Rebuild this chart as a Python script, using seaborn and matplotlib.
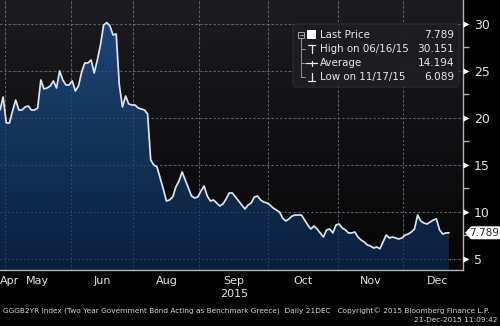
import numpy as np
import pandas as pd
import matplotlib
matplotlib.use("Agg")
import matplotlib.pyplot as plt
import matplotlib.transforms as mtransforms
import seaborn as sns
from matplotlib.colors import LinearSegmentedColormap
from matplotlib.patches import FancyBboxPatch, Polygon, Rectangle

# ---- data -------------------------------------------------------------
# Trading days (the Greek bond market was shut through July 2015)
trade_dates = pd.bdate_range("2015-04-29", "2015-06-26").append(
    pd.bdate_range("2015-08-03", "2015-12-21"))

yields = [
    20.85, 22.23, 19.47, 19.47, 20.74, 21.91, 20.85, 20.85, 21.17, 21.28,
    20.85, 20.85, 21.06, 24.04, 23.09, 23.19, 23.40, 23.94, 23.19, 25.00,
    24.04, 23.51, 23.51, 23.94, 22.87, 23.40, 24.89, 25.85, 25.85, 26.17,
    24.79, 26.17, 27.77, 29.89, 30.151, 29.79, 28.83, 28.94, 23.51, 21.17,
    22.34, 21.49, 21.38, 21.38, 21.06, 20.96, 20.85, 20.43, 15.53, 15.00,
    14.79, 13.62, 12.45, 11.17, 11.28, 11.60, 12.66, 13.30, 14.26, 13.40,
    12.55, 11.70, 11.49, 11.60, 12.23, 12.77, 11.70, 11.17, 11.28, 10.96,
    10.64, 10.85, 11.38, 12.02, 12.02, 11.60, 11.17, 10.74, 10.32, 10.74,
    10.96, 11.60, 11.70, 11.28, 11.06, 10.96, 10.74, 10.43, 10.21, 10.00,
    9.36, 9.04, 9.26, 9.57, 9.68, 9.68, 9.68, 9.15, 8.62, 8.19,
    8.51, 8.19, 7.77, 7.34, 8.09, 8.19, 7.77, 8.62, 8.72, 8.30,
    8.09, 7.77, 7.77, 7.87, 7.34, 7.02, 6.81, 6.49, 6.38, 6.17,
    6.28, 6.089, 6.81, 7.55, 7.23, 7.34, 7.23, 7.13, 7.23, 7.55,
    7.66, 7.87, 8.19, 9.68, 9.04, 8.83, 8.72, 8.94, 9.15, 9.26,
    8.09, 7.66, 7.77, 7.789,
]

month_labels = ["Apr", "May", "Jun", "Aug", "Sep", "Oct", "Nov", "Dec"]
year_label = "2015"
y_ticks = [5, 10, 15, 20, 25, 30]
y_minor_ticks = [7.5, 12.5, 17.5, 22.5, 27.5]
legend_names = ["Last Price", "High on 06/16/15", "Average", "Low on 11/17/15"]
average_text = "14.194"
footer_left = ("GGGB2YR Index (Two Year Government Bond Acting as Benchmark Greece)"
               "  Daily 21DEC   Copyright\u00a9 2015 Bloomberg Finance L.P.")
footer_right = "21-Dec-2015 11:09:42"

# ---- figure -----------------------------------------------------------
sns.set_style("dark")
plt.rcParams["font.family"] = ["DejaVu Sans"]

W, H = 500, 326
fig = plt.figure(figsize=(W / 100, H / 100), dpi=100, facecolor="black")
ax = fig.add_axes([0, 1 - 270 / H, 463 / W, 270 / H])
ax.set_facecolor("black")

pos = np.arange(len(yields))
x0, x1 = 0.0, 463 / 3.14
y0, y1 = 3.83, 32.55

# plot-area background gradient
bg_cmap = LinearSegmentedColormap.from_list("bg", ["#060607", "#1c1c20"])
ax.imshow(np.linspace(0, 1, 256).reshape(-1, 1), extent=[x0, x1, y0, y1],
          origin="lower", cmap=bg_cmap, aspect="auto", zorder=0)

# month boundaries (first trading day of each month)
months = trade_dates.to_period("M")
first_idx = [i for i in range(1, len(months)) if months[i] != months[i - 1]]
bounds = [i - 0.5 for i in first_idx]

# grid
grid_ls = (0, (1.5, 2.5))
for b in bounds:
    ax.axvline(b, color="#6c6c6c", lw=0.8, ls=grid_ls, zorder=1)
for t in y_ticks:
    ax.axhline(t, color="#6c6c6c", lw=0.8, ls=grid_ls, zorder=1)

# gradient area under the curve
area = ax.fill_between(pos, yields, y0, color="none", lw=0)
fill_cmap = LinearSegmentedColormap.from_list("fill", ["#0a1f3c", "#1d4575"])
im = ax.imshow(np.linspace(0, 1, 256).reshape(-1, 1), extent=[x0, x1, y0, 30.5],
               origin="lower", cmap=fill_cmap, aspect="auto", zorder=2)
im.set_clip_path(area.get_paths()[0], transform=ax.transData)

# faint grid over the fill
for b in bounds:
    ax.axvline(b, color="#5a6678", lw=0.7, ls=grid_ls, zorder=2.5, alpha=0.6)
for t in y_ticks:
    ax.axhline(t, color="#5a6678", lw=0.7, ls=grid_ls, zorder=2.5, alpha=0.6)

sns.lineplot(x=pos, y=yields, ax=ax, color="#dfe4ec", linewidth=1.25, zorder=3)

ax.set_xlim(x0, x1)
ax.set_ylim(y0, y1)
ax.grid(False)

# spines
for s in ["left", "top"]:
    ax.spines[s].set_visible(False)
for s in ["right", "bottom"]:
    ax.spines[s].set_visible(True)
    ax.spines[s].set_color("#b4b4b4")
    ax.spines[s].set_linewidth(1.0)

# y axis on the right
ax.yaxis.tick_right()
ax.set_yticks(y_ticks)
ax.set_yticklabels([str(t) for t in y_ticks])
ax.set_yticks(y_minor_ticks, minor=True)
ax.tick_params(axis="y", which="major", length=0, pad=8, labelsize=9,
               labelcolor="#e4e4e4")
ax.tick_params(axis="y", which="minor", length=4, width=1, color="#b4b4b4",
               direction="out")
tri_trans = mtransforms.offset_copy(
    mtransforms.blended_transform_factory(ax.transAxes, ax.transData),
    fig=fig, x=3, y=0, units="dots")
for t in y_ticks:
    ax.plot([1], [t], marker=">", ms=4.5, color="white", mec="none",
            transform=tri_trans, clip_on=False, zorder=5)

# x axis: ticks at month boundaries, labels centred inside each month
ax.set_xticks(bounds)
ax.set_xticklabels([])
ax.tick_params(axis="x", which="major", length=3, width=1, color="#b4b4b4",
               direction="out")
edges = bounds + [bounds[-1] + 22]
centers = [(edges[k] + edges[k + 1]) / 2 for k in range(len(edges) - 1)]
ax.set_xticks(centers, minor=True)
ax.set_xticklabels(month_labels[1:], minor=True)
ax.tick_params(axis="x", which="minor", length=0, pad=4, labelsize=8,
               labelcolor="#e4e4e4")
ax.text(0.0, -0.022, month_labels[0], transform=ax.transAxes, ha="left",
        va="top", fontsize=8, color="#e4e4e4")
sep_center = centers[month_labels[1:].index("Sep")]
ax.text(sep_center, -0.072, year_label,
        transform=mtransforms.blended_transform_factory(ax.transData, ax.transAxes),
        ha="center", va="top", fontsize=8, color="#e4e4e4")

# ---- overlay in pixel coordinates --------------------------------------
ov = fig.add_axes([0, 0, 1, 1], zorder=10)
ov.set_xlim(0, W)
ov.set_ylim(H, 0)
ov.axis("off")

# legend panel
ov.add_patch(FancyBboxPatch((293, 24), 166, 63,
                            boxstyle="round,pad=0,rounding_size=3",
                            fc="#1e1e22", ec="#2c2c31", lw=0.8, alpha=0.96))
rows_y = [35, 49, 63, 77]
tcol = "#e8e8e8"
last_v, high_v, low_v = yields[-1], max(yields), min(yields)
legend_vals = [f"{last_v:.3f}", f"{high_v:.3f}", average_text, f"{low_v:.3f}"]
for name, val, ry in zip(legend_names, legend_vals, rows_y):
    ov.text(320, ry, name, fontsize=7.4, color=tcol, va="center", ha="left")
    ov.text(454, ry, val, fontsize=7.6, color=tcol, va="center", ha="right")

# tree connector and icons
lc = "#a8a8a8"
ov.add_patch(Rectangle((298, 32), 6, 6, fc="none", ec=lc, lw=0.7))
ov.plot([299.5, 302.5], [35, 35], color=lc, lw=0.7)
ov.plot([301, 301], [38, 77], color=lc, lw=0.6)
for ry in rows_y[1:]:
    ov.plot([301, 305], [ry, ry], color=lc, lw=0.6)
ov.add_patch(Rectangle((307, 30), 9, 9, fc="white", ec="none"))
# high icon
ov.plot([308, 315], [45, 45], color=tcol, lw=0.9)
ov.plot([311.5, 311.5], [45, 53], color=tcol, lw=0.9)
# average icon
ov.plot([306, 317], [63, 63], color=tcol, lw=0.9)
ov.plot([311.5, 311.5], [60.5, 65.5], color=tcol, lw=0.9)
# low icon
ov.plot([308, 315], [81, 81], color=tcol, lw=0.9)
ov.plot([311.5, 311.5], [73, 81], color=tcol, lw=0.9)

# last value tag on the price axis
_, disp_y = ax.transData.transform((0, last_v))
ty = H - disp_y
ov.add_patch(Polygon([(465, ty), (471, ty - 6.5), (500, ty - 6.5),
                      (500, ty + 6.5), (471, ty + 6.5)],
                     closed=True, fc="white", ec="none"))
ov.text(484.5, ty + 0.5, f"{last_v:.3f}", fontsize=7.6, color="#262626",
        ha="center", va="center")

# footer
ov.text(3, 311, footer_left, fontsize=5.3, color="#d8d8d8", ha="left", va="center")
ov.text(498, 320, footer_right, fontsize=5.3, color="#d8d8d8", ha="right", va="center")

fig.savefig("out.png", dpi=100, facecolor="black")
